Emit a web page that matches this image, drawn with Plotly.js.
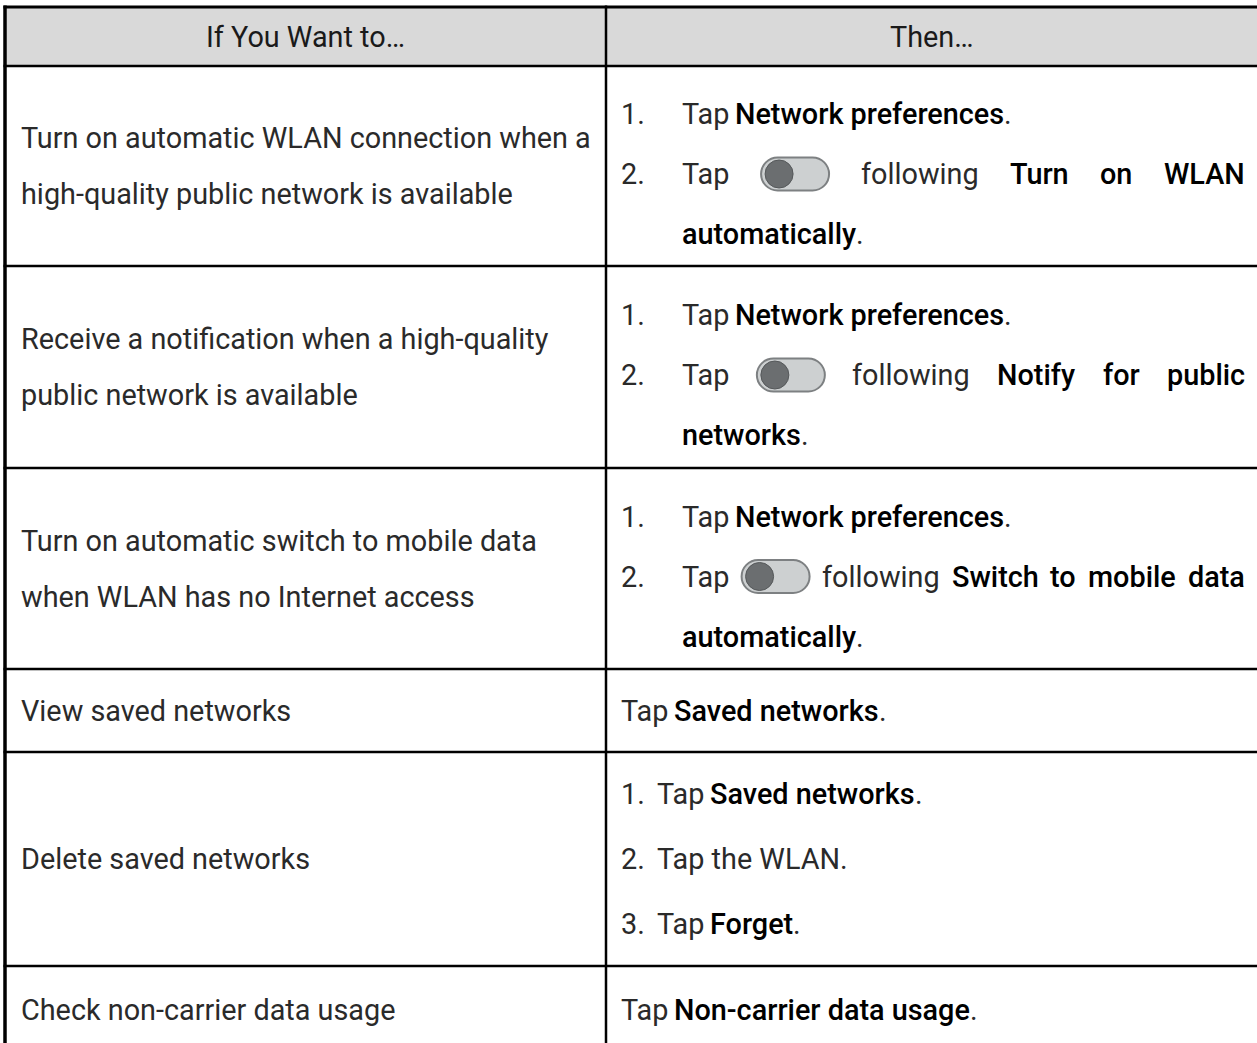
<!DOCTYPE html>
<html>
<head>
<meta charset="utf-8">
<script src="https://cdn.plot.ly/plotly-3.0.1.min.js"></script>
<style>
html,body{margin:0;padding:0;background:#fff;}
#chart{width:1257px;height:1043px;}
</style>
</head>
<body>
<div id="chart"></div>
<script>
// ---------------- DATA ----------------
const headers = ["If You Want to…", "Then…"];

const wantTo = [
  ["Turn on automatic WLAN connection when a", "high-quality public network is available"],
  ["Receive a notification when a high-quality", "public network is available"],
  ["Turn on automatic switch to mobile data", "when WLAN has no Internet access"],
  ["View saved networks"],
  ["Delete saved networks"],
  ["Check non-carrier data usage"]
];

// each part: [text, bold, attachWithoutSpace]; "@toggle" = switch icon
const stepsRow1 = [
  {num: "1.", parts: [["Tap", 0], ["Network preferences", 1], [".", 0, true]]},
  {num: "2.", parts: [["Tap", 0], ["@toggle"], ["following", 0], ["Turn", 1], ["on", 1], ["WLAN", 1]], justify: true},
  {num: "",   parts: [["automatically", 1], [".", 0, true]]}
];
const stepsRow2 = [
  {num: "1.", parts: [["Tap", 0], ["Network preferences", 1], [".", 0, true]]},
  {num: "2.", parts: [["Tap", 0], ["@toggle"], ["following", 0], ["Notify", 1], ["for", 1], ["public", 1]], justify: true},
  {num: "",   parts: [["networks", 1], [".", 0, true]]}
];
const stepsRow3 = [
  {num: "1.", parts: [["Tap", 0], ["Network preferences", 1], [".", 0, true]]},
  {num: "2.", parts: [["Tap", 0], ["@toggle"], ["following", 0], ["Switch", 1], ["to", 1], ["mobile", 1], ["data", 1]], justify: true},
  {num: "",   parts: [["automatically", 1], [".", 0, true]]}
];
const stepsRow4 = [
  {num: null, parts: [["Tap", 0], ["Saved networks", 1], [".", 0, true]]}
];
const stepsRow5 = [
  {num: "1.", parts: [["Tap", 0], ["Saved networks", 1], [".", 0, true]]},
  {num: "2.", parts: [["Tap the WLAN.", 0]]},
  {num: "3.", parts: [["Tap", 0], ["Forget", 1], [".", 0, true]]}
];
const stepsRow6 = [
  {num: null, parts: [["Tap", 0], ["Non-carrier data usage", 1], [".", 0, true]]}
];
const thenRows = [stepsRow1, stepsRow2, stepsRow3, stepsRow4, stepsRow5, stepsRow6];

// ---------------- LAYOUT / STYLE ----------------
const W = 1257, H = 1043;
const FONT = "Roboto";
const rowEdges = [7, 66, 266, 468, 669, 752, 966, 1043];
const colEdges = [5, 606, 1257];
const leftTextX = 21;
const numX = 621;
const indentWide = 682, indentNarrow = 657;
const rightLimit = 1245;
const leftLineGap = 56;
const leftOffset = [0, 0, 0, 0, 0, 5];
const rightLineGap = [60, 60, 60, 0, 65, 0];
const rightOffset = [8, 8, 8, 0, 0, 5];
const indents = [indentWide, indentWide, indentWide, numX, indentNarrow, numX];
const textColor = "#2a2a2a", boldColor = "#000000", headColor = "#1a1a1a";
const lineColor = "#000000", headFill = "#d9d9d9";
const tog = {w: 68, h: 33, fill: "#cdd0d1", edge: "#7d8082", knob: "#6b6e70", knobEdge: "#55585a"};

// ---------------- MEASURE ----------------
const ctx = document.createElement("canvas").getContext("2d");
function measure(t, bold, size) {
  ctx.font = (bold ? "500 " : "400 ") + size + "px " + FONT;
  return ctx.measureText(t).width;
}
let FS = 100 * 570 / measure(wantTo[0][0], 0, 100);
FS = Math.max(22, Math.min(29, FS));
const spaceW = measure(" ", 0, FS) * 0.8;

const annotations = [];
const shapes = [];

function addText(x, y, text, bold, color, anchor) {
  annotations.push({
    x: x, y: y, xref: "x", yref: "y", text: text, showarrow: false,
    xanchor: anchor || "left", yanchor: "middle", borderpad: 0, borderwidth: 0,
    font: {family: FONT, size: FS, color: color || (bold ? boldColor : textColor), weight: bold ? 500 : 400}
  });
}

function pillPath(cx, cy, w, h) {
  const r = h / 2, k = 0.5523 * r;
  const x0 = cx - w / 2, x1 = cx + w / 2, y0 = cy - r, y1 = cy + r;
  return `M${x0 + r},${y0} L${x1 - r},${y0} C${x1 - r + k},${y0} ${x1},${cy - k} ${x1},${cy} ` +
         `C${x1},${cy + k} ${x1 - r + k},${y1} ${x1 - r},${y1} L${x0 + r},${y1} ` +
         `C${x0 + r - k},${y1} ${x0},${cy + k} ${x0},${cy} C${x0},${cy - k} ${x0 + r - k},${y0} ${x0 + r},${y0} Z`;
}
function addToggle(left, cy) {
  const cx = left + tog.w / 2;
  shapes.push({type: "path", xref: "x", yref: "y", path: pillPath(cx, cy, tog.w, tog.h),
    fillcolor: tog.fill, line: {color: tog.edge, width: 2}, layer: "above"});
  const r = tog.h / 2 - 2.5, kx = left + r + 4;
  shapes.push({type: "circle", xref: "x", yref: "y", x0: kx - r, x1: kx + r, y0: cy - r, y1: cy + r,
    fillcolor: tog.knob, line: {color: tog.knobEdge, width: 1}, layer: "above"});
}

// ---------------- GRID ----------------
shapes.push({type: "rect", xref: "x", yref: "y", x0: colEdges[0], x1: W + 5, y0: rowEdges[0], y1: rowEdges[1],
  fillcolor: headFill, line: {width: 0}, layer: "below"});
for (let i = 0; i < rowEdges.length - 1; i++) {
  shapes.push({type: "line", xref: "x", yref: "y", x0: colEdges[0] - 1.5, x1: W + 5, y0: rowEdges[i], y1: rowEdges[i],
    line: {color: lineColor, width: i === 0 ? 3 : 2.5}});
}
[colEdges[0], colEdges[1]].forEach((cx, j) => {
  shapes.push({type: "line", xref: "x", yref: "y", x0: cx, x1: cx, y0: rowEdges[0] - 1.5, y1: H + 5,
    line: {color: lineColor, width: j === 0 ? 3.5 : 2.5}});
});

// ---------------- HEADER ----------------
const headY = (rowEdges[0] + rowEdges[1]) / 2;
addText((colEdges[0] + colEdges[1]) / 2, headY, headers[0], 0, headColor, "center");
addText((colEdges[1] + colEdges[2]) / 2, headY, headers[1], 0, headColor, "center");

// ---------------- BODY ----------------
wantTo.forEach((lines, r) => {
  const cy = (rowEdges[r + 1] + rowEdges[r + 2]) / 2 + leftOffset[r];
  lines.forEach((t, i) => {
    addText(leftTextX, cy + (i - (lines.length - 1) / 2) * leftLineGap, t, 0);
  });
});

thenRows.forEach((steps, r) => {
  const cy = (rowEdges[r + 1] + rowEdges[r + 2]) / 2 + rightOffset[r];
  const startX = indents[r];
  steps.forEach((st, i) => {
    const y = cy + (i - (steps.length - 1) / 2) * rightLineGap[r];
    if (st.num) addText(numX, y, st.num, 0);
    const widths = st.parts.map(p => p[0] === "@toggle" ? tog.w : measure(p[0], p[1], FS));
    let gap = spaceW;
    if (st.justify) {
      const total = widths.reduce((a, b) => a + b, 0);
      gap = Math.max(spaceW, (rightLimit - startX - total) / (widths.length - 1));
    }
    let x = startX;
    st.parts.forEach((p, k) => {
      if (k > 0 && !p[2]) x += gap;
      if (p[0] === "@toggle") addToggle(x, y);
      else addText(x, y, p[0], p[1]);
      x += widths[k];
    });
  });
});

// ---------------- PLOT ----------------
const data = [{type: "scatter", x: [], y: [], mode: "markers", hoverinfo: "skip", showlegend: false}];
const layout = {
  width: W, height: H,
  margin: {l: 0, r: 0, t: 0, b: 0, pad: 0},
  paper_bgcolor: "#ffffff", plot_bgcolor: "#ffffff",
  xaxis: {range: [0, W], visible: false, fixedrange: true},
  yaxis: {range: [H, 0], visible: false, fixedrange: true},
  showlegend: false,
  shapes: shapes,
  annotations: annotations
};
Plotly.newPlot("chart", data, layout, {staticPlot: true, displayModeBar: false});
</script>
</body>
</html>
